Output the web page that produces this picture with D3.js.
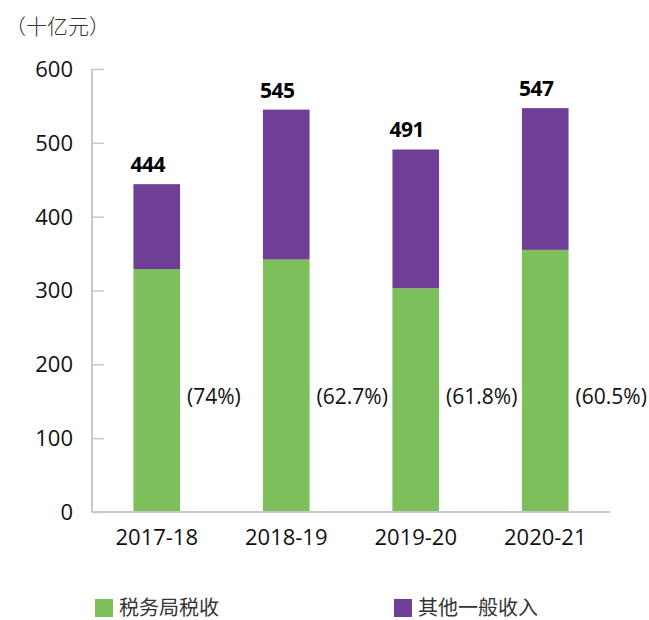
<!DOCTYPE html>
<html>
<head>
<meta charset="utf-8">
<script src="https://cdn.jsdelivr.net/npm/d3@7"></script>
<style>
  body { margin: 0; background: #fff; }
  svg { display: block; }
</style>
</head>
<body>
<svg></svg>
<script>
var years = ["2017-18", "2018-19", "2019-20", "2020-21"];
var taxDept = [329, 342, 303, 355];
var otherRevenue = [115, 203, 188, 192];
var totals = [444, 545, 491, 547];
var shareLabels = ["(74%)", "(62.7%)", "(61.8%)", "(60.5%)"];
var yTicks = [0, 100, 200, 300, 400, 500, 600];
var seriesNames = ["税务局税收", "其他一般收入"];

var svgWidth = 649, svgHeight = 620;
var green = "#7cbf5b", purple = "#6e3f94";
var font = "'Open Sans', 'Noto Sans', sans-serif";

var svg = d3.select("svg")
    .attr("width", svgWidth)
    .attr("height", svgHeight);

var margin = { left: 92, right: 39, top: 69, bottom: 108 };
var width = svgWidth - margin.left - margin.right,
    height = svgHeight - margin.top - margin.bottom;

var xScale = d3.scaleBand().domain(years).range([0, width])
    .paddingInner(0.64).paddingOuter(0.32);
var yScale = d3.scaleLinear().domain([0, 600]).range([height, 0]);

var g = svg.append("g")
    .attr("transform", "translate(" + margin.left + "," + margin.top + ")");

// unit label
svg.append("text")
    .attr("x", 5)
    .attr("y", 34)
    .style("font-family", "'Noto Sans CJK SC', sans-serif")
    .style("font-size", "21px")
    .style("font-weight", 300)
    .style("fill", "#333")
    .text("（十亿元）");

// y axis
var yAxis = g.append("g")
    .call(d3.axisRight(yScale).tickValues(yTicks).tickSize(12).tickFormat(""));
yAxis.select(".domain").remove();
yAxis.selectAll(".tick line").attr("stroke", "#c8c8c8").attr("stroke-width", 1.5);

g.append("line")
    .attr("x1", 0).attr("x2", 0)
    .attr("y1", yScale(600)).attr("y2", yScale(0))
    .attr("stroke", "#c8c8c8").attr("stroke-width", 2);

g.selectAll(".ylab")
    .data(yTicks)
    .enter()
    .append("text")
    .attr("x", -19)
    .attr("y", function (d) { return yScale(d); })
    .attr("dy", "0.36em")
    .attr("text-anchor", "end")
    .style("font-family", font)
    .style("font-size", "22px")
    .style("fill", "#111")
    .text(function (d) { return d; });

// bars
g.selectAll(".tax")
    .data(taxDept)
    .enter()
    .append("rect")
    .attr("x", function (d, i) { return xScale(years[i]); })
    .attr("y", function (d) { return yScale(d); })
    .attr("width", xScale.bandwidth())
    .attr("height", function (d) { return yScale(0) - yScale(d); })
    .style("fill", green);

g.selectAll(".other")
    .data(otherRevenue)
    .enter()
    .append("rect")
    .attr("x", function (d, i) { return xScale(years[i]); })
    .attr("y", function (d, i) { return yScale(taxDept[i] + d); })
    .attr("width", xScale.bandwidth())
    .attr("height", function (d, i) { return yScale(taxDept[i]) - yScale(taxDept[i] + d); })
    .style("fill", purple);

// x axis baseline
g.append("line")
    .attr("x1", 0).attr("x2", width)
    .attr("y1", yScale(0)).attr("y2", yScale(0))
    .attr("stroke", "#c8c8c8").attr("stroke-width", 2);

g.selectAll(".xlab")
    .data(years)
    .enter()
    .append("text")
    .attr("x", function (d) { return xScale(d) + xScale.bandwidth() / 2; })
    .attr("y", yScale(0) + 33)
    .attr("text-anchor", "middle")
    .style("font-family", font)
    .style("font-size", "22px")
    .style("fill", "#111")
    .text(function (d) { return d; });

// totals
g.selectAll(".total")
    .data(totals)
    .enter()
    .append("text")
    .attr("x", function (d, i) { return xScale(years[i]) + xScale.bandwidth() / 2 - 9; })
    .attr("y", function (d) { return yScale(d) - 12; })
    .attr("text-anchor", "middle")
    .style("font-family", font)
    .style("font-size", "21px")
    .style("font-weight", "bold")
    .style("letter-spacing", "-0.5px")
    .style("fill", "#000")
    .text(function (d) { return d; });

// share labels
g.selectAll(".share")
    .data(shareLabels)
    .enter()
    .append("text")
    .attr("x", function (d, i) { return xScale(years[i]) + xScale.bandwidth() + 7; })
    .attr("y", 404 - margin.top)
    .style("font-family", font)
    .style("font-size", "21px")
    .style("fill", "#111")
    .text(function (d) { return d; });

// legend
var legendX = [95, 394];
var legend = svg.selectAll(".legend")
    .data(seriesNames)
    .enter()
    .append("g")
    .attr("transform", function (d, i) { return "translate(" + legendX[i] + ",599)"; });

legend.append("rect")
    .attr("width", 18).attr("height", 18)
    .style("fill", function (d, i) { return i === 0 ? green : purple; });

legend.append("text")
    .attr("x", 24)
    .attr("y", 16)
    .style("font-family", "'Noto Sans CJK SC', sans-serif")
    .style("font-size", "20px")
    .style("fill", "#333")
    .text(function (d) { return d; });
</script>
</body>
</html>
